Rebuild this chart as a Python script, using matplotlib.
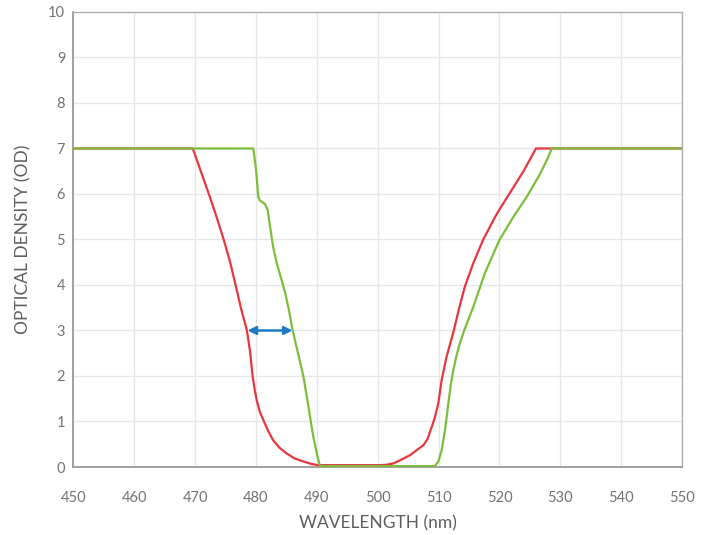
import matplotlib
matplotlib.use("Agg")
import matplotlib.pyplot as plt

# ---- data ----
red_x = [450, 469.6, 471.0, 472.4, 473.6, 474.7, 475.7, 476.6, 477.5, 478.3, 478.5, 479.0,
         479.45, 479.8, 480.1, 480.6, 481.2, 482.0, 482.8, 483.8, 485.0, 486.3, 487.8,
         489.0, 490.2, 495.0, 500.4, 501.5, 502.6, 503.7, 505.3, 506.4, 507.5, 508.2,
         508.6, 509.0, 509.4, 509.95, 510.5, 511.3, 512.4, 513.3, 514.3, 515.7, 517.3,
         519.3, 520.0, 521.7, 523.9, 526.0, 550]
red_y = [7, 7, 6.47, 5.94, 5.46, 4.99, 4.52, 4.02, 3.5, 3.1, 3.0, 2.55,
         1.98, 1.68, 1.47, 1.22, 1.03, 0.79, 0.59, 0.43, 0.30, 0.19, 0.12,
         0.07, 0.04, 0.04, 0.04, 0.05, 0.08, 0.15, 0.26, 0.37, 0.48, 0.62,
         0.78, 0.93, 1.1, 1.4, 1.91, 2.42, 2.95, 3.45, 3.96, 4.48, 4.99,
         5.50, 5.66, 6.02, 6.49, 7, 7]

green_x = [450, 479.55, 480.0, 480.37, 480.6, 480.93, 481.47, 481.9, 482.3, 482.8, 483.4,
           484.2, 484.8, 485.4, 486.0, 486.9, 487.8, 488.6, 489.4, 490.1, 490.5, 509.4,
           509.95, 510.5, 511.05, 511.6, 512.0, 512.4, 512.9, 513.4, 514.2, 515.7, 517.6,
           520.0, 522.3, 524.5, 526.7, 527.8, 528.6, 550]
green_y = [7, 7, 6.54, 5.94, 5.86, 5.83, 5.78, 5.65, 5.28, 4.84, 4.48,
           4.11, 3.82, 3.45, 3.01, 2.5, 1.98, 1.33, 0.67, 0.23, 0.02, 0.02,
           0.12, 0.37, 0.81, 1.4, 1.8, 2.12, 2.42, 2.68, 3.0, 3.52, 4.26,
           4.99, 5.50, 5.94, 6.45, 6.75, 7, 7]

arrow_x = [478.6, 486.0]
arrow_y = 3

x_ticks = [450, 460, 470, 480, 490, 500, 510, 520, 530, 540, 550]
y_ticks = [0, 1, 2, 3, 4, 5, 6, 7, 8, 9, 10]

plt.rcParams['font.family'] = ['Lato', 'DejaVu Sans']

fig = plt.figure(figsize=(7.04, 5.35), dpi=100)
ax = fig.add_axes([0.1044, 0.1271, 0.8644, 0.8505])

ax.plot(red_x, red_y, color='#e8363f', lw=1.6, zorder=3, solid_joinstyle='round')
ax.plot(green_x, green_y, color='#7dbd3c', lw=1.6, zorder=4, solid_joinstyle='round')

ax.annotate('', xy=(arrow_x[0], arrow_y), xytext=(arrow_x[1], arrow_y),
            arrowprops=dict(arrowstyle='<|-|>', color='#1c7bc2', lw=1.8,
                            mutation_scale=12, shrinkA=0, shrinkB=0), zorder=5)

ax.set_xlim(450, 550)
ax.set_ylim(0, 10)
ax.set_xticks(x_ticks)
ax.set_yticks(y_ticks)
ax.grid(True, color='#e6e6e6', lw=1.0, zorder=0)
ax.set_axisbelow(True)

for s in ax.spines.values():
    s.set_color('#b0b0b0')
    s.set_linewidth(1.0)
ax.spines['left'].set_color('#9a9a9a')
ax.spines['bottom'].set_color('#9a9a9a')
ax.spines['left'].set_linewidth(1.3)
ax.spines['bottom'].set_linewidth(1.3)

ax.tick_params(axis='both', length=0, colors='#737373', labelsize=10.5)
ax.tick_params(axis='x', pad=17)
ax.tick_params(axis='y', pad=6)

ax.set_xlabel('WAVELENGTH (nm)', fontsize=12.5, color='#5e5e5e', labelpad=8)
ax.set_ylabel('OPTICAL DENSITY (OD)', fontsize=12.5, color='#5e5e5e', labelpad=12)

fig.savefig('out.png', dpi=100)
